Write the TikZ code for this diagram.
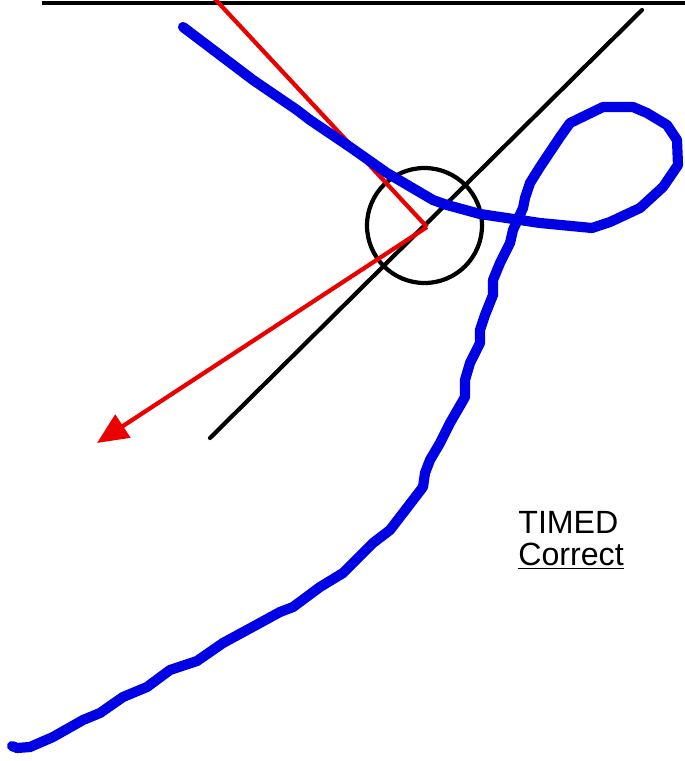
\documentclass[tikz,border=0pt]{standalone}
\usepackage{fontspec}
\setmainfont{Liberation Sans}
\usetikzlibrary{arrows.meta}
\tikzstyle{track}=[blue!90!black, line width=5.8pt, line join=round, line cap=round]
\tikzstyle{vec}=[red!92!black, line width=2.4pt]
\tikzstyle{axis}=[black, line width=2.4pt]
\tikzstyle{label}=[font=\fontsize{18.3}{18}\selectfont, align=left, inner sep=0pt]

\begin{document}
\begin{tikzpicture}[x=0.02cm, y=-0.02cm]
				\useasboundingbox (0,0) rectangle (685,761);
				\draw[black, line width=1.8pt] (42,3) -- (685,3);
				\coordinate (top) at (214,-2);
				\coordinate (pivot) at (427,227);
				\coordinate (tip) at (97,443);
				\coordinate (lo) at (210,438);
				\coordinate (hi) at (642,10);
				\draw[axis, line cap=round] (lo) -- (hi);
				\node[draw, axis, circle, minimum size=115*0.02cm, inner sep=0pt] (ring) at (424.5,225.5) {};
				\draw[vec] (top) -- (pivot);
				\draw[vec, -{Triangle[length=0.62cm, width=0.54cm]}] (pivot) -- (tip);
				\draw[track] (183,27) -- (253,80) -- (297,110) -- (310,120) -- (350,147)
					-- (387,173) -- (433,200) -- (447,205) -- (480,214) -- (520,220)
					-- (540,223) -- (592,228) -- (610,222) -- (640,208) -- (663,187)
					-- (678,165) -- (677,140) -- (667,125) -- (647,113) -- (633,107)
					-- (603,107) -- (570,123) -- (560,137) -- (540,167) -- (530,183)
					-- (525,198) -- (523,208) -- (513,230) -- (510,243) -- (500,263)
					-- (493,280) -- (493,295) -- (485,315) -- (480,330) -- (480,343)
					-- (470,363) -- (465,380) -- (465,397) -- (450,423) -- (440,443)
					-- (430,460) -- (425,473) -- (423,487) -- (390,530) -- (373,543)
					-- (343,573) -- (320,587) -- (293,607) -- (280,612) -- (247,630)
					-- (223,643) -- (197,661) -- (170,670) -- (147,687) -- (123,697)
					-- (100,713) -- (83,720) -- (53,737) -- (30,747) -- (17,748) -- (12,746);
				\node[label, anchor=north west] (note) at (518,511) {TIMED\\\underline{Correct}};
			\end{tikzpicture}
\end{document}
